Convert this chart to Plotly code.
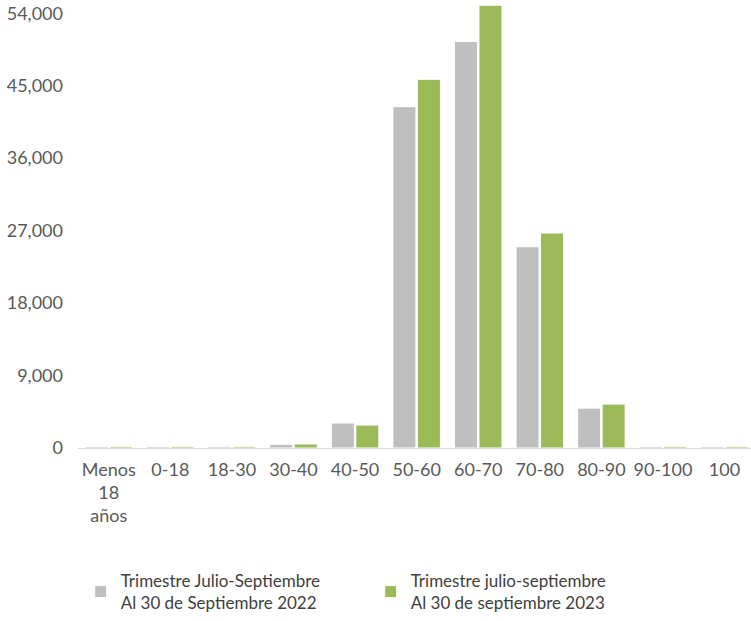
import plotly.graph_objects as go

categories = ['Menos<br>18<br>años', '0-18', '18-30', '30-40', '40-50', '50-60',
              '60-70', '70-80', '80-90', '90-100', '100']
values_2022 = [200, 200, 200, 450, 3100, 42400, 50500, 25000, 4950, 200, 200]
values_2023 = [200, 200, 200, 500, 2850, 45800, 55000, 26700, 5450, 200, 200]
y_ticks = [0, 9000, 18000, 27000, 36000, 45000, 54000]

name_2022 = 'Trimestre Julio-Septiembre<br>Al 30 de Septiembre 2022'
name_2023 = 'Trimestre julio-septiembre<br>Al 30 de septiembre 2023'

fig = go.Figure()
fig.add_trace(go.Bar(
    x=categories, y=values_2022, name=name_2022,
    marker=dict(color='#BFBFBF', line=dict(color='white', width=1))
))
fig.add_trace(go.Bar(
    x=categories, y=values_2023, name=name_2023,
    marker=dict(color='#9BBB59', line=dict(color='white', width=1))
))

fig.update_layout(
    width=751, height=621,
    margin=dict(l=78, r=0, t=2, b=172),
    plot_bgcolor='white', paper_bgcolor='white',
    font=dict(family='Lato', size=18, color='#595959'),
    barmode='group', bargap=0.205, bargroupgap=0.06,
    showlegend=True,
    legend=dict(
        orientation='h', x=0.004, xanchor='left', y=-0.259, yanchor='top',
        font=dict(size=17, color='#404040'), entrywidth=245,
        traceorder='normal'
    )
)
fig.update_yaxes(
    range=[0, 55400], tickvals=y_ticks, tickformat=',', showgrid=False,
    zeroline=False, showline=False, ticks='', ticklabelstandoff=14,
    automargin=False
)
fig.update_xaxes(
    range=[-0.5, 10.43],
    showline=True, linecolor='#D9D9D9', linewidth=1, ticks='',
    ticklabelstandoff=5, automargin=False
)

# page body has a default 8px margin; remove it so the figure sits at 0,0
fig.write_html('out.html', config={'displayModeBar': False},
               post_script="document.body.style.margin='0';")
